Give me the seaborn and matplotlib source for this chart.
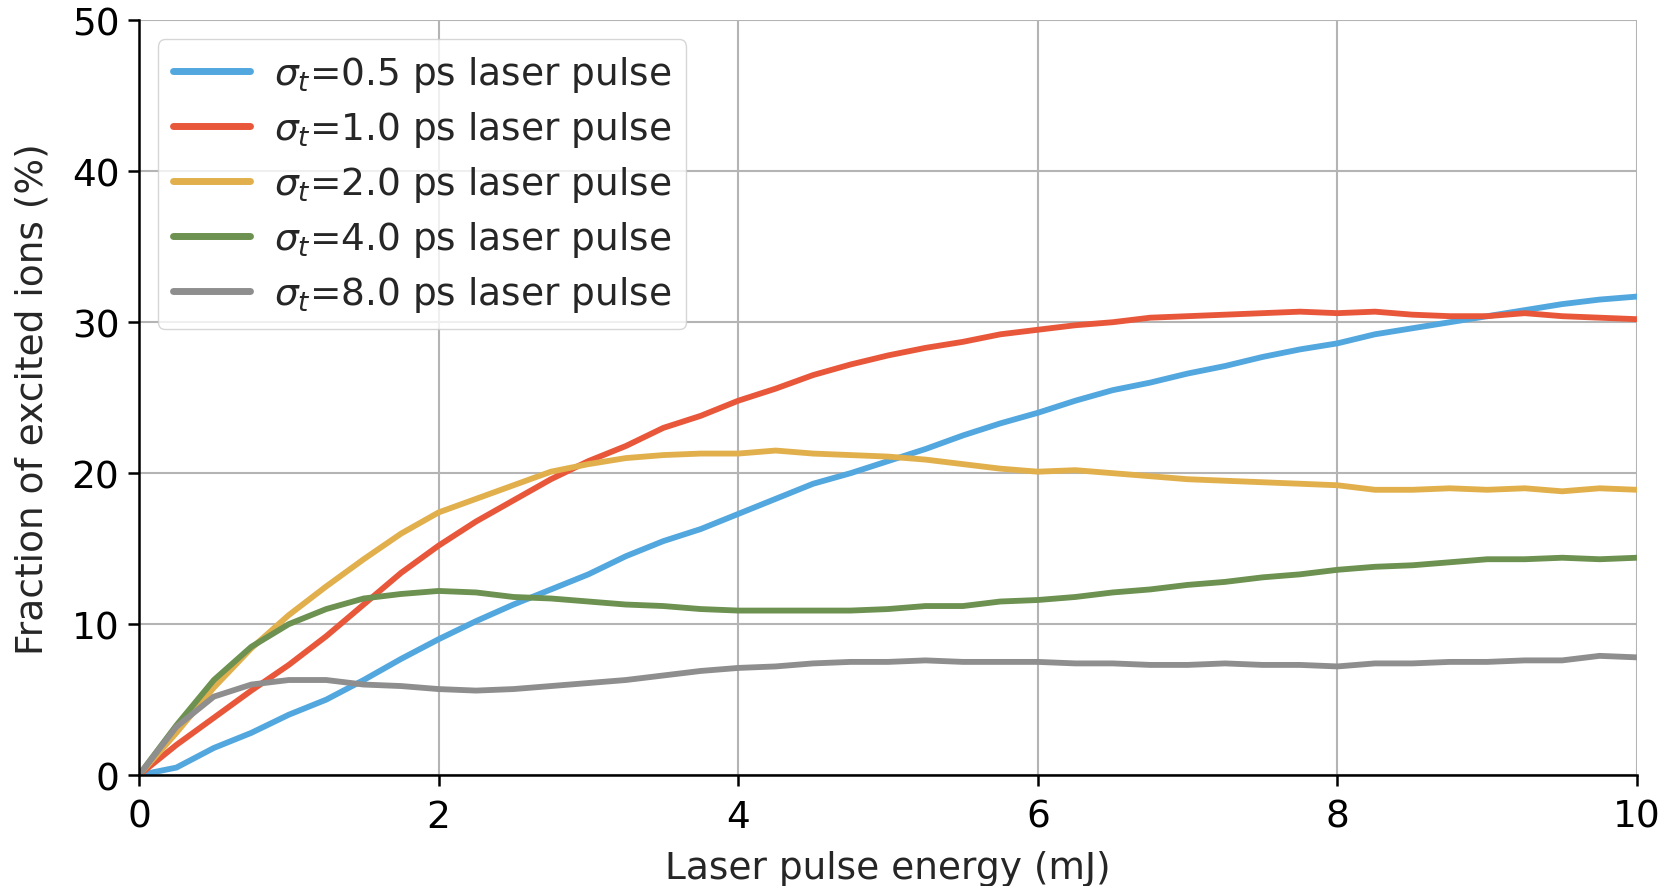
import matplotlib
matplotlib.use("Agg")
import matplotlib.pyplot as plt
import numpy as np
import pandas as pd
import seaborn as sns

# pulse energy (mJ)
energy = [0, 0.25, 0.5, 0.75, 1.0, 1.25, 1.5, 1.75, 2.0, 2.25, 2.5, 2.75, 3.0, 3.25,
          3.5, 3.75, 4.0, 4.25, 4.5, 4.75, 5.0, 5.25, 5.5, 5.75, 6.0, 6.25, 6.5, 6.75,
          7.0, 7.25, 7.5, 7.75, 8.0, 8.25, 8.5, 8.75, 9.0, 9.25, 9.5, 9.75, 10.0]

# fraction of excited ions (%) per pulse length
frac_05 = [0, 0.5, 1.8, 2.8, 4.0, 5.0, 6.3, 7.7, 9.0, 10.2, 11.3, 12.3, 13.3, 14.5,
           15.5, 16.3, 17.3, 18.3, 19.3, 20.0, 20.8, 21.6, 22.5, 23.3, 24.0, 24.8, 25.5, 26.0,
           26.6, 27.1, 27.7, 28.2, 28.6, 29.2, 29.6, 30.0, 30.4, 30.8, 31.2, 31.5, 31.7]
frac_10 = [0, 2.0, 3.8, 5.6, 7.3, 9.2, 11.3, 13.4, 15.2, 16.8, 18.2, 19.6, 20.8, 21.8,
           23.0, 23.8, 24.8, 25.6, 26.5, 27.2, 27.8, 28.3, 28.7, 29.2, 29.5, 29.8, 30.0, 30.3,
           30.4, 30.5, 30.6, 30.7, 30.6, 30.7, 30.5, 30.4, 30.4, 30.6, 30.4, 30.3, 30.2]
frac_20 = [0, 2.8, 5.8, 8.4, 10.6, 12.5, 14.3, 16.0, 17.4, 18.3, 19.2, 20.1, 20.6, 21.0,
           21.2, 21.3, 21.3, 21.5, 21.3, 21.2, 21.1, 20.9, 20.6, 20.3, 20.1, 20.2, 20.0, 19.8,
           19.6, 19.5, 19.4, 19.3, 19.2, 18.9, 18.9, 19.0, 18.9, 19.0, 18.8, 19.0, 18.9]
frac_40 = [0, 3.3, 6.3, 8.5, 10.0, 11.0, 11.7, 12.0, 12.2, 12.1, 11.8, 11.7, 11.5, 11.3,
           11.2, 11.0, 10.9, 10.9, 10.9, 10.9, 11.0, 11.2, 11.2, 11.5, 11.6, 11.8, 12.1, 12.3,
           12.6, 12.8, 13.1, 13.3, 13.6, 13.8, 13.9, 14.1, 14.3, 14.3, 14.4, 14.3, 14.4]
frac_80 = [0, 3.2, 5.2, 6.0, 6.3, 6.3, 6.0, 5.9, 5.7, 5.6, 5.7, 5.9, 6.1, 6.3,
           6.6, 6.9, 7.1, 7.2, 7.4, 7.5, 7.5, 7.6, 7.5, 7.5, 7.5, 7.4, 7.4, 7.3,
           7.3, 7.4, 7.3, 7.3, 7.2, 7.4, 7.4, 7.5, 7.5, 7.6, 7.6, 7.9, 7.8]

labels = [r"$\sigma_t$=0.5 ps laser pulse", r"$\sigma_t$=1.0 ps laser pulse",
          r"$\sigma_t$=2.0 ps laser pulse", r"$\sigma_t$=4.0 ps laser pulse",
          r"$\sigma_t$=8.0 ps laser pulse"]
colors = ["#52a7de", "#e9573b", "#e1b04c", "#6d9150", "#8e8e8e"]

series = [frac_05, frac_10, frac_20, frac_40, frac_80]
df = pd.concat([pd.DataFrame({"energy": energy, "frac": s, "pulse": lab})
                for s, lab in zip(series, labels)], ignore_index=True)

sns.set_style("ticks")
plt.rcParams["font.family"] = ["DejaVu Sans"]
plt.rcParams["mathtext.fontset"] = "dejavusans"

fig = plt.figure(figsize=(16.62, 8.87), dpi=100)
ax = fig.add_axes([0.0836, 0.125, 0.9014, 0.851])

sns.lineplot(data=df, x="energy", y="frac", hue="pulse", palette=colors,
             hue_order=labels, linewidth=4.2, ax=ax)

ax.set_xlim(0, 10)
ax.set_ylim(0, 50)
ax.set_xticks([0, 2, 4, 6, 8, 10])
ax.set_yticks([0, 10, 20, 30, 40, 50])
ax.grid(True, color="#b4b4b4", linewidth=1.5)
ax.set_axisbelow(True)
sns.despine(ax=ax)
for sp in ["left", "bottom"]:
    ax.spines[sp].set_linewidth(1.8)
    ax.spines[sp].set_color("black")
ax.tick_params(labelsize=27, length=8, width=1.8, colors="black", pad=6)
ax.tick_params(axis="x", pad=9)

ax.set_xlabel("Laser pulse energy (mJ)", fontsize=27, labelpad=11)
ax.set_ylabel("Fraction of excited ions (%)", fontsize=27, labelpad=15)

leg = ax.legend(loc="upper left", fontsize=27, handlelength=2.05, handletextpad=0.65,
                labelspacing=0.4, borderaxespad=0.5, framealpha=0.8, edgecolor="#cccccc")
for line in leg.get_lines():
    line.set_linewidth(5)

fig.savefig("out.png", dpi=100)
